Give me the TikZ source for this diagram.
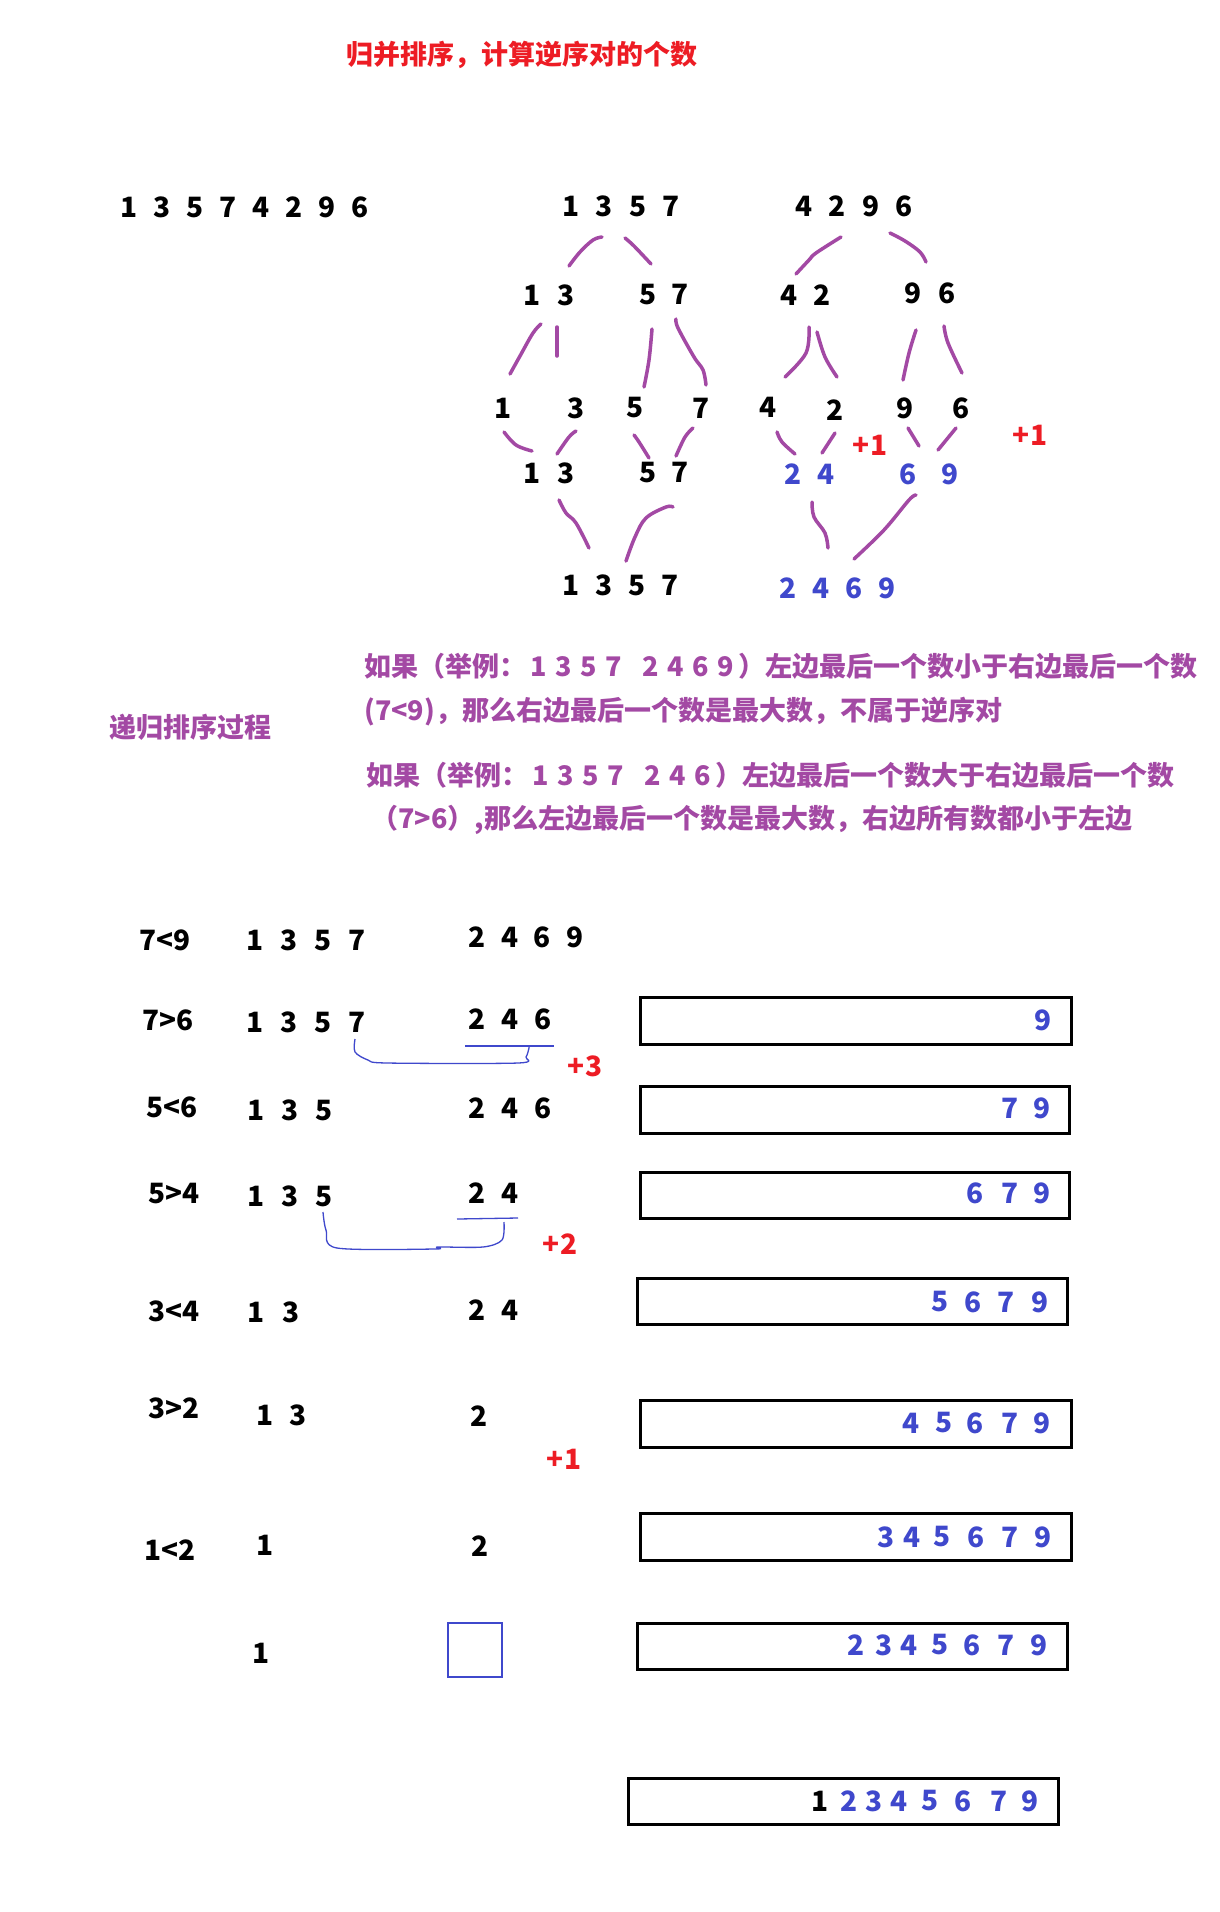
\documentclass[tikz,border=0pt]{standalone}
\usepackage{fontspec}
\setmainfont{Noto Sans CJK SC}
\definecolor{mypurple}{RGB}{163,73,164}
\definecolor{myblue}{RGB}{63,72,204}
\definecolor{myred}{RGB}{237,28,36}
\newcommand\dgs[2]{\foreach \q in {#2}{\makebox[#1][c]{\q}}}
\begin{document}
\begin{tikzpicture}[x=1pt,y=-1pt,
  every node/.style={inner sep=0pt, font=\fontsize{28}{30}\selectfont\bfseries},
  blk/.style={text=black},
  blu/.style={text=myblue},
  rd/.style={text=myred},
  pur/.style={text=mypurple, font=\fontsize{27}{30}\selectfont\bfseries},
  pstroke/.style={draw=mypurple, line width=3.5pt, line cap=round, line join=round},
  bline/.style={draw=myblue, line width=1.3pt, line join=round},
  resbox/.style={draw=black, line width=3pt},
  sqbox/.style={draw=myblue, line width=2pt}]
\fill[white] (0,0) rectangle (1220,1912);
\useasboundingbox (0,0) rectangle (1220,1912);

% title
\node[rd, font=\fontsize{27}{30}\selectfont\bfseries] (title) at (522,55) {归并排序，计算逆序对的个数};

% top row
\node[blk] (t0) at (245,207) {\dgs{33pt}{1,3,5,7,4,2,9,6}};

% tree
\node[blk] (a1) at (621,206) {\dgs{33.3pt}{1,3,5,7}};
\node[blk] (a2) at (854,206) {\dgs{33.3pt}{4,2,9,6}};
\node[blk] (b1) at (549,295) {\dgs{34pt}{1,3}};
\node[blk] (b2) at (664,295) {\dgs{32pt}{5,7}};
\node[blk] (b3) at (806,295) {\dgs{33pt}{4,2}};
\node[blk] (b4) at (930,293) {\dgs{34pt}{9,6}};
\node[blk] (c1) at (503,408) {1};
\node[blk] (c2) at (576,408) {3};
\node[blk] (c3) at (635,408) {5};
\node[blk] (c4) at (701,408) {7};
\node[blk] (c5) at (768,407) {4};
\node[blk] (c6) at (835,410) {2};
\node[blk] (c7) at (905,408) {9};
\node[blk] (c8) at (961,408) {6};
\node[rd] (p1) at (870,445) {+1};
\node[rd] (p2) at (1030,435) {+1};
\node[blk] (d1) at (549,473) {\dgs{34pt}{1,3}};
\node[blk] (d2) at (664,473) {\dgs{32pt}{5,7}};
\node[blu] (d3) at (810,474) {\dgs{33pt}{2,4}};
\node[blu] (d4) at (929,474) {\dgs{42pt}{6,9}};
\node[blk] (e1) at (621,585) {\dgs{33pt}{1,3,5,7}};
\node[blu] (e2) at (838,588) {\dgs{33pt}{2,4,6,9}};

% purple hand strokes
\draw[pstroke] plot[smooth, tension=0.6] coordinates {(602,237) (593,240) (580,252) (569,266)};
\draw[pstroke] plot[smooth, tension=0.6] coordinates {(625,238) (634,246) (651,264)};
\draw[pstroke] plot[smooth, tension=0.6] coordinates {(841,237) (816,253) (809,260) (796,274)};
\draw[pstroke] plot[smooth, tension=0.6] coordinates {(890,233) (905,241) (920,252) (926,262)};
\draw[pstroke] plot[smooth, tension=0.6] coordinates {(541,324) (533,333) (520,356) (510,374)};
\draw[pstroke] (557,327) -- (557,356);
\draw[pstroke] plot[smooth, tension=0.6] coordinates {(652,329) (649,360) (644,387)};
\draw[pstroke] plot[smooth, tension=0.6] coordinates {(676,319) (678,328) (694,357) (703,370) (706,385)};
\draw[pstroke] plot[smooth, tension=0.6] coordinates {(809,327) (806,353) (785,377)};
\draw[pstroke] plot[smooth, tension=0.6] coordinates {(817,332) (825,357) (837,377)};
\draw[pstroke] plot[smooth, tension=0.6] coordinates {(916,330) (909,353) (903,380)};
\draw[pstroke] plot[smooth, tension=0.6] coordinates {(944,326) (948,343) (962,373)};
\draw[pstroke] plot[smooth, tension=0.6] coordinates {(504,432) (516,445) (532,451)};
\draw[pstroke] plot[smooth, tension=0.6] coordinates {(576,431) (569,437) (557,454)};
\draw[pstroke] plot[smooth, tension=0.6] coordinates {(634,435) (639,442) (649,458)};
\draw[pstroke] plot[smooth, tension=0.6] coordinates {(693,428) (685,437) (676,456)};
\draw[pstroke] plot[smooth, tension=0.6] coordinates {(777,432) (782,442) (795,454)};
\draw[pstroke] (835,433) -- (822,453);
\draw[pstroke] (908,428) -- (919,446);
\draw[pstroke] (956,428) -- (938,450);
\draw[pstroke] plot[smooth, tension=0.6] coordinates {(559,500) (566,513) (576,523) (589,548)};
\draw[pstroke] plot[smooth, tension=0.6] coordinates {(673,507) (666,507) (646,518) (635,537) (626,561)};
\draw[pstroke] plot[smooth, tension=0.6] coordinates {(812,502) (814,517) (825,533) (828,548)};
\draw[pstroke] plot[smooth, tension=0.6] coordinates {(916,495) (909,500) (884,530) (854,559)};

% explanation
\node[pur, anchor=west] (l1) at (364,666) {如果（举例：\dgs{25pt}{1,3,5,7}\hspace{12pt}\dgs{25pt}{2,4,6,9}）左边最后一个数小于右边最后一个数};
\node[pur, anchor=west] (l2) at (364,712) {(7<9)，那么右边最后一个数是最大数，不属于逆序对};
\node[pur, anchor=west] (l3) at (366,775) {如果（举例：\dgs{25pt}{1,3,5,7}\hspace{12pt}\dgs{25pt}{2,4,6}）左边最后一个数大于右边最后一个数};
\node[pur, anchor=west] (l4) at (371,820) {（7>6）,那么左边最后一个数是最大数，右边所有数都小于左边};
\node[pur] (rec) at (190,727) {递归排序过程};

% merge rows
\node[blk] (r1a) at (165,940) {7<9};
\node[blk] (r1b) at (306,940) {\dgs{33.7pt}{1,3,5,7}};
\node[blk] (r1c) at (526,937) {\dgs{32.7pt}{2,4,6,9}};
\node[blk] (r2a) at (168,1020) {7>6};
\node[blk] (r2b) at (306,1022) {\dgs{33.7pt}{1,3,5,7}};
\node[blk] (r2c) at (510,1019) {\dgs{33pt}{2,4,6}};
\node[blk] (r3a) at (172,1107) {5<6};
\node[blk] (r3b) at (290,1110) {\dgs{34pt}{1,3,5}};
\node[blk] (r3c) at (510,1108) {\dgs{33pt}{2,4,6}};
\node[blk] (r4a) at (174,1194) {5>4};
\node[blk] (r4b) at (290,1196) {\dgs{34pt}{1,3,5}};
\node[blk] (r4c) at (494,1193) {\dgs{33pt}{2,4}};
\node[blk] (r5a) at (174,1311) {3<4};
\node[blk] (r5b) at (274,1312) {\dgs{35pt}{1,3}};
\node[blk] (r5c) at (494,1310) {\dgs{33pt}{2,4}};
\node[blk] (r6a) at (174,1408) {3>2};
\node[blk] (r6b) at (282,1415) {\dgs{33pt}{1,3}};
\node[blk] (r6c) at (479,1416) {2};
\node[blk] (r7a) at (170,1550) {1<2};
\node[blk] (r7b) at (265,1545) {1};
\node[blk] (r7c) at (480,1546) {2};
\node[blk] (r8b) at (261,1653) {1};
\draw[sqbox] (448,1623) rectangle (502,1677);

% counts
\node[rd] (q3) at (585,1066) {+3};
\node[rd] (q2) at (560,1244) {+2};
\node[rd] (q1) at (564,1459) {+1};

% blue brackets
\draw[bline] plot[smooth, tension=0.5] coordinates {(355,1039) (355,1052) (368,1060) (387,1063) (518,1063) (526,1057) (529,1048) (529,1046)};
\draw[bline] (465,1046) -- (554,1046);
\draw[bline] plot[smooth, tension=0.5] coordinates {(323,1212) (326,1230) (337,1248) (435,1249) (438,1247) (483,1247) (502,1240) (504,1222)};
\draw[bline] (457,1219) -- (518,1218);

% result boxes
\draw[resbox] (640,997) rectangle (1071,1044);
\draw[resbox] (640,1086) rectangle (1069,1133);
\draw[resbox] (640,1172) rectangle (1069,1218);
\draw[resbox] (637,1278) rectangle (1067,1324);
\draw[resbox] (640,1400) rectangle (1071,1447);
\draw[resbox] (640,1513) rectangle (1071,1560);
\draw[resbox] (637,1623) rectangle (1067,1669);
\draw[resbox] (628,1778) rectangle (1058,1824);

\foreach \x/\d [count=\i] in {1043/9} \node[blu] (ba\i) at (\x,1020) {\d};
\foreach \x/\d [count=\i] in {1010/7,1042/9} \node[blu] (bb\i) at (\x,1108) {\d};
\foreach \x/\d [count=\i] in {975/6,1010/7,1042/9} \node[blu] (bc\i) at (\x,1193) {\d};
\foreach \x/\d [count=\i] in {940/5,973/6,1006/7,1040/9} \node[blu] (bd\i) at (\x,1302) {\d};
\foreach \x/\d [count=\i] in {911/4,944/5,975/6,1010/7,1042/9} \node[blu] (be\i) at (\x,1423) {\d};
\foreach \x/\d [count=\i] in {886/3,912/4,942/5,976/6,1010/7,1043/9} \node[blu] (bf\i) at (\x,1537) {\d};
\foreach \x/\d [count=\i] in {856/2,884/3,909/4,940/5,972/6,1006/7,1039/9} \node[blu] (bg\i) at (\x,1645) {\d};
\node[blk] (bh0) at (820,1801) {1};
\foreach \x/\d [count=\i] in {849/2,874/3,899/4,930/5,963/6,999/7,1030/9} \node[blu] (bh\i) at (\x,1801) {\d};
\end{tikzpicture}
\end{document}
